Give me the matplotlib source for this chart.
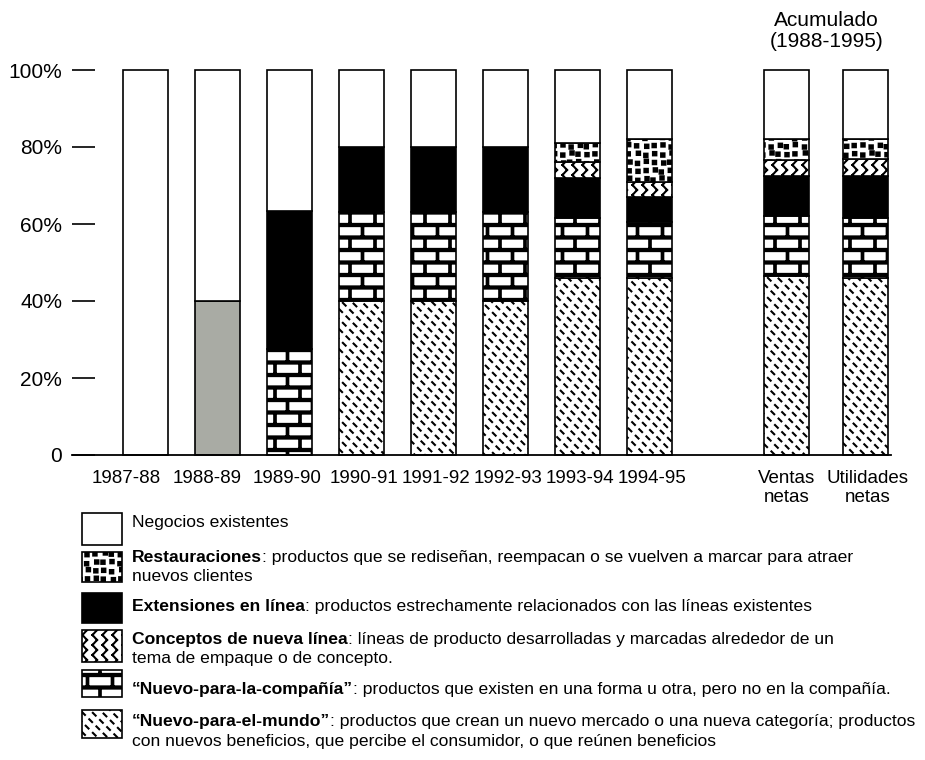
import numpy as np
import matplotlib
matplotlib.use("Agg")
import matplotlib.pyplot as plt
import matplotlib.hatch as mhatch
from matplotlib.path import Path
from matplotlib.patches import Rectangle

# --- datos (porcentaje de ventas de nuevos productos, de abajo hacia arriba) ---
categorias = ["1987-88", "1988-89", "1989-90", "1990-91", "1991-92", "1992-93",
              "1993-94", "1994-95", "Ventas\nnetas", "Utilidades\nnetas"]
sin_clasificar = [0, 40, 0, 0, 0, 0, 0, 0, 0, 0]
nuevo_mundo = [0, 0, 0, 40, 40, 40, 46, 46, 46.5, 46]
nuevo_compania = [0, 0, 27.5, 23, 23, 23, 15.5, 14.5, 15.5, 15.5]
extensiones = [0, 0, 36, 17, 17, 17, 10.5, 6.5, 10.5, 11]
conceptos = [0, 0, 0, 0, 0, 0, 4, 4, 4, 4.5]
restauraciones = [0, 0, 0, 0, 0, 0, 5, 11, 5.5, 5]
existentes = [100, 60, 36.5, 20, 20, 20, 19, 18, 18, 18]

y_ticks = [0, 20, 40, 60, 80, 100]
y_labels = ["0", "20%", "40%", "60%", "80%", "100%"]

leyenda = [
    ("", "Negocios existentes", ""),
    ("Restauraciones", ": productos que se rediseñan, reempacan o se vuelven a marcar para atraer",
     "nuevos clientes"),
    ("Extensiones en línea", ": productos estrechamente relacionados con las líneas existentes", ""),
    ("Conceptos de nueva línea", ": líneas de producto desarrolladas y marcadas alrededor de un",
     "tema de empaque o de concepto."),
    ("\u201cNuevo-para-la-compañía\u201d", ": productos que existen en una forma u otra, pero no en la compañía.", ""),
    ("\u201cNuevo-para-el-mundo\u201d", ": productos que crean un nuevo mercado o una nueva categoría; productos",
     "con nuevos beneficios, que percibe el consumidor, o que reúnen beneficios"),
]

# posiciones de las barras y de sus etiquetas
x_pos = np.array([0, 1, 2, 3, 4, 5, 6, 7, 8.9, 10.0])
label_shift = np.array([-0.27, -0.14, -0.04, 0.03, 0.03, 0.03, 0.03, 0.03, 0.0, 0.02])
width = 0.625


# --- tramas propias (se enganchan en el sistema de hatch de matplotlib) ---
class _Tile(mhatch.HatchPatternBase):
    char = ""

    def __init__(self, hatch, density):
        self.verts, self.codes = [], []
        if hatch.count(self.char):
            self.build()
        self.num_vertices = len(self.codes)

    def rect(self, x0, y0, x1, y1):
        self.verts += [(x0, y0), (x1, y0), (x1, y1), (x0, y1), (x0, y0)]
        self.codes += [Path.MOVETO, Path.LINETO, Path.LINETO, Path.LINETO, Path.CLOSEPOLY]

    def seg(self, x0, y0, x1, y1):
        self.verts += [(x0, y0), (x1, y1)]
        self.codes += [Path.MOVETO, Path.LINETO]

    def set_vertices_and_codes(self, vertices, codes):
        vertices[:] = self.verts
        codes[:] = self.codes


class Ladrillos(_Tile):
    char = "*"

    def build(self):
        rows, cols, hm, vm = 8, 4, 0.022, 0.016
        for i in range(rows + 1):
            self.rect(0, i / rows - hm / 2, 1, i / rows + hm / 2)
        for i in range(rows):
            for j in range(cols + 1):
                x = (j + 0.5 * (i % 2)) / cols
                self.rect(x - vm / 2, i / rows, x + vm / 2, (i + 1) / rows)


class Puntos(_Tile):
    char = "o"

    def build(self):
        n, s = 12, 0.034
        jit = [0.0, 0.012, -0.009, 0.005, -0.012, 0.009, 0.003, -0.005]
        for i in range(n):
            for j in range(n):
                cx = (j + 0.5) / n + jit[(i * 5 + j * 3) % 8]
                cy = (i + 0.5) / n + jit[(i * 3 + j * 7 + 2) % 8]
                self.rect(cx - s / 2, cy - s / 2, cx + s / 2, cy + s / 2)


class Ondas(_Tile):
    char = "O"

    def build(self):
        cols, waves, amp = 10, 10, 0.045
        for c in range(cols):
            x0 = (c + 0.25) / cols
            for k in range(2 * waves):
                y0, y1 = k / (2 * waves), (k + 1) / (2 * waves)
                if k % 2 == 0:
                    self.seg(x0 + amp, y0, x0, y1)
                else:
                    self.seg(x0, y0, x0 + amp, y1)


class Guiones(_Tile):
    char = "."

    def build(self):
        n, m, d = 10, 14, 0.028
        for k in range(-1, 2 * n + 2):
            c = k / n
            for p in range(-1, m + 1):
                t = (p + 0.5 * (k % 2)) / m
                self.seg(t, c - t, t + d, c - t - d)


_fuera = {'SmallCircles', 'LargeCircles', 'SmallFilledCircles', 'Stars'}
mhatch._hatch_types[:] = [h for h in mhatch._hatch_types if h.__name__ not in _fuera] + \
    [Ladrillos, Puntos, Ondas, Guiones]

plt.rcParams['font.family'] = ['Liberation Sans', 'DejaVu Sans']
plt.rcParams['hatch.linewidth'] = 1.5
plt.rcParams['hatch.color'] = 'black'

W, H = 925, 760
fig = plt.figure(figsize=(W / 100, H / 100), dpi=100)
ax = fig.add_axes([72 / W, (H - 455) / H, 819 / W, 385 / H])

series = [
    (sin_clasificar, dict(facecolor='#a9aba4')),
    (nuevo_mundo, dict(facecolor='white', hatch='.')),
    (nuevo_compania, dict(facecolor='white', hatch='*')),
    (extensiones, dict(facecolor='black')),
    (conceptos, dict(facecolor='white', hatch='O')),
    (restauraciones, dict(facecolor='white', hatch='o')),
    (existentes, dict(facecolor='white')),
]
bottom = np.zeros(len(categorias))
for vals, style in series:
    v = np.array(vals, dtype=float)
    m = v > 0
    ax.bar(x_pos[m], v[m], width, bottom=bottom[m], edgecolor='black',
           linewidth=1.2, clip_on=False, **style)
    bottom += v

ax.set_xlim(-1.02, 10.35)
ax.set_ylim(0, 100)
for s in ['left', 'right', 'top']:
    ax.spines[s].set_visible(False)
ax.spines['bottom'].set_linewidth(1.3)

ax.set_yticks(y_ticks)
ax.set_yticklabels(y_labels, fontsize=15)
ax.tick_params(axis='y', direction='in', length=16.5, width=1.2, pad=7)
ax.set_xticks(x_pos + label_shift)
ax.set_xticklabels(categorias, fontsize=13.5, linespacing=1.1)
ax.tick_params(axis='x', length=0, pad=11)

ax.text((x_pos[8] + x_pos[9]) / 2, 105, "Acumulado\n(1988-1995)", ha='center',
        va='bottom', fontsize=15, linespacing=1.1)

# --- leyenda ---
swatches = [
    dict(facecolor='white'),
    dict(facecolor='white', hatch='o'),
    dict(facecolor='black'),
    dict(facecolor='white', hatch='O'),
    dict(facecolor='white', hatch='*'),
    dict(facecolor='white', hatch='.'),
]
sw_y = [(513, 545), (552, 582), (593, 623), (630, 662), (670, 697), (710, 738)]
txt_y = [(530, None), (562, 581), (611, None), (644, 663), (694, None), (726, 746)]

for (bold, rest, line2), sty, (y0, y1), (b1, b2) in zip(leyenda, swatches, sw_y, txt_y):
    fig.add_artist(Rectangle((82 / W, 1 - y1 / H), 40 / W, (y1 - y0) / H,
                             transform=fig.transFigure, edgecolor='black',
                             linewidth=1.2, **sty))
    t = fig.text(132 / W, 1 - b1 / H, bold, fontsize=12.6, fontweight='bold', va='baseline')
    ax.annotate(rest, xy=(1, 0), xycoords=t, va='bottom', ha='left', fontsize=12.6,
                annotation_clip=False)
    if line2:
        fig.text(132 / W, 1 - b2 / H, line2, fontsize=12.6, va='baseline')

fig.savefig("out.png", dpi=100)
